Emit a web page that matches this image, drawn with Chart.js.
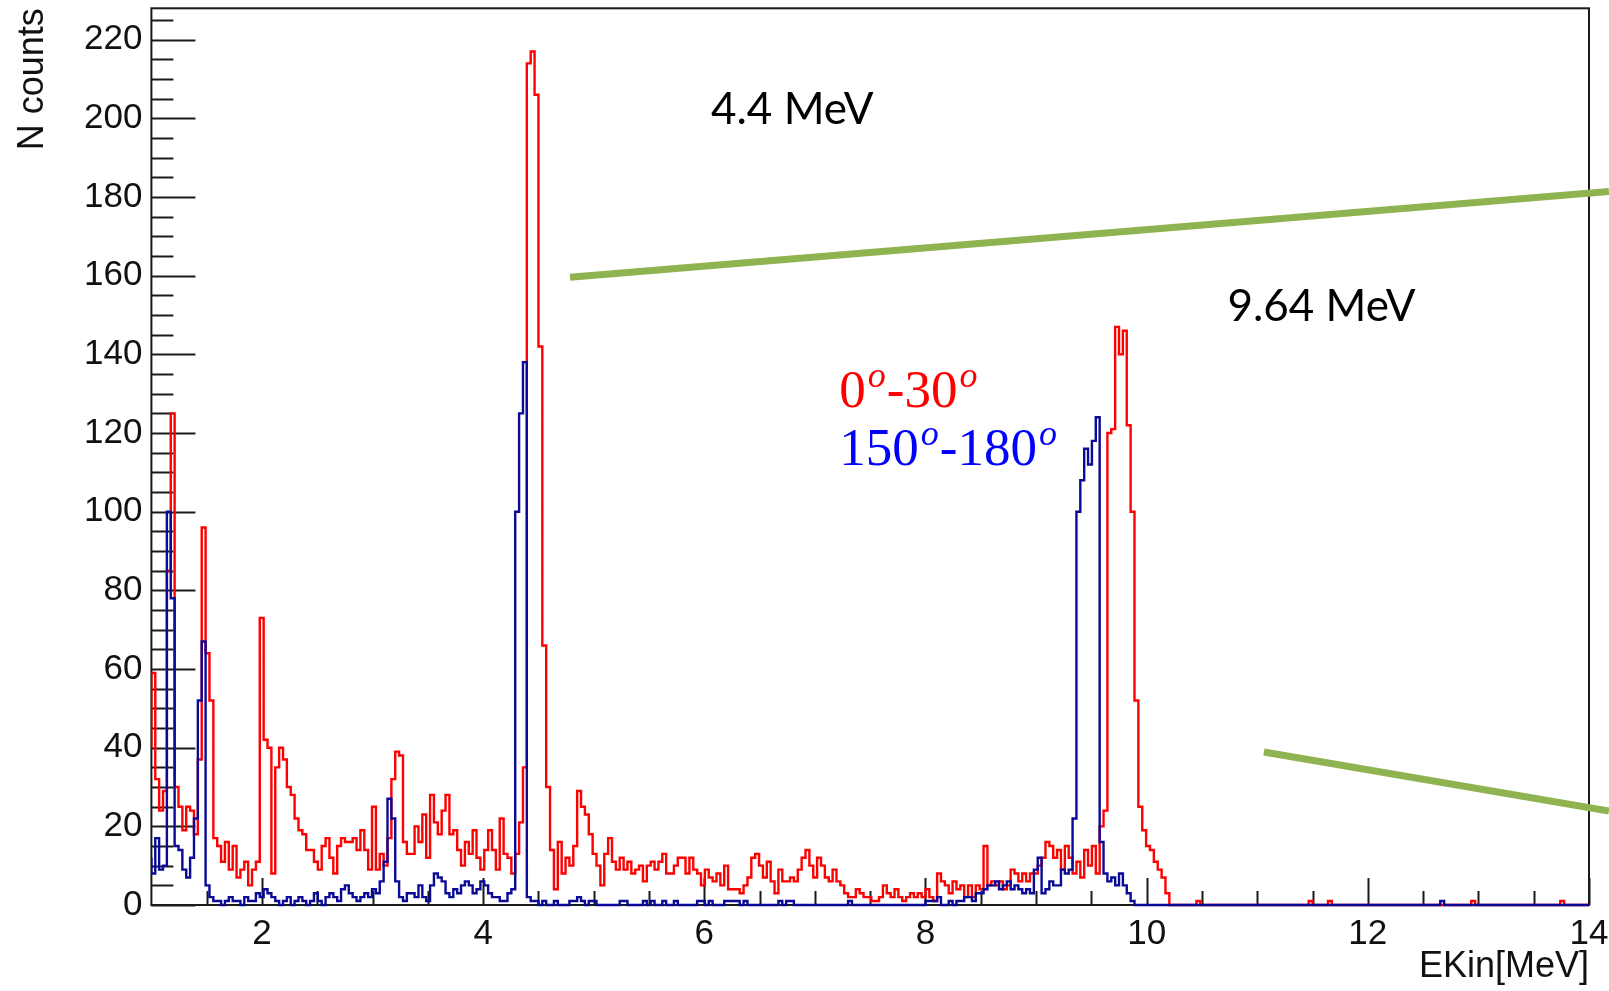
<!DOCTYPE html>
<html>
<head>
<meta charset="utf-8">
<title>EKin spectra</title>
<script src="https://cdn.jsdelivr.net/npm/chart.js@4.4.0/dist/chart.umd.min.js"></script>
<style>
  html, body { margin: 0; padding: 0; background: #fff; }
  #wrap { position: relative; width: 1609px; height: 991px; }
</style>
</head>
<body>
<div id="wrap"><canvas id="spectrum"></canvas></div>
<script>
// === Binning of the spectra (MeV) ===
const E_START = 1.0;
const BIN_W = 0.035;
const E_END = 14.0;

// === Counts per bin, 0°-30° (red), starting at E_START ===
const redCounts = [
  40, 59, 32, 24, 29, 85, 125, 30, 25, 19,
  25, 24, 18, 37, 96, 64, 52, 17, 15, 11,
  16, 9, 15, 7, 9, 11, 5, 9, 11, 73,
  42, 40, 8, 35, 40, 37, 30, 28, 22, 19,
  18, 14, 14, 11, 9, 15, 17, 12, 8, 15,
  17, 16, 16, 17, 14, 19, 14, 9, 25, 9,
  13, 10, 17, 32, 39, 38, 16, 13, 13, 20,
  16, 23, 12, 28, 21, 18, 24, 28, 18, 19,
  14, 10, 16, 13, 19, 12, 9, 14, 19, 14,
  9, 22, 13, 12, 8, 13, 21, 35, 214, 217,
  206, 142, 66, 30, 14, 4, 16, 8, 12, 10,
  15, 29, 25, 23, 18, 13, 10, 5, 13, 17,
  11, 9, 12, 9, 11, 8, 9, 10, 6, 10,
  11, 9, 11, 13, 8, 8, 10, 12, 12, 8,
  12, 9, 8, 5, 9, 7, 6, 8, 5, 10,
  4, 4, 4, 3, 5, 7, 12, 13, 10, 7,
  11, 6, 3, 9, 6, 6, 7, 6, 9, 12,
  14, 10, 7, 12, 10, 7, 6, 9, 6, 5,
  3, 2, 2, 4, 3, 2, 2, 1, 1, 2,
  5, 3, 2, 4, 2, 1, 2, 3, 2, 3,
  2, 4, 2, 1, 8, 6, 5, 3, 6, 4,
  5, 2, 5, 2, 5, 4, 15, 5, 6, 5,
  6, 4, 5, 9, 8, 6, 8, 6, 8, 8,
  10, 12, 16, 15, 12, 14, 9, 15, 12, 8,
  11, 7, 14, 10, 15, 8, 20, 24, 120, 121,
  147, 140, 146, 122, 100, 52, 25, 19, 15, 14,
  11, 9, 7, 3
];

// === Counts per bin, 150°-180° (blue) ===
const blueCounts = [
  12, 8, 17, 9, 10, 100, 78, 15, 14, 9,
  7, 12, 22, 52, 67, 5, 2, 1, 1, 0,
  1, 2, 1, 1, 0, 2, 1, 1, 3, 2,
  4, 3, 2, 1, 0, 1, 2, 0, 1, 2,
  1, 0, 1, 3, 1, 0, 2, 3, 2, 1,
  4, 5, 3, 2, 1, 2, 3, 2, 4, 3,
  6, 11, 27, 22, 6, 2, 1, 3, 3, 2,
  5, 2, 1, 5, 8, 7, 6, 3, 2, 4,
  3, 5, 6, 5, 3, 4, 6, 5, 3, 2,
  2, 1, 1, 3, 4, 100, 125, 138, 2, 1,
  1, 0, 1, 0, 0, 1, 0, 0, 0, 1,
  1, 2, 1, 0, 1, 1, 0, 0, 0, 0,
  0, 0, 1, 1, 0, 0, 0, 0, 1, 0,
  1, 0, 0, 1, 0, 0, 1, 0, 0, 0,
  0, 0, 1, 1, 0, 1, 0, 0, 0, 1,
  1, 1, 1, 0, 1, 0, 0, 0, 0, 0,
  0, 0, 0, 1, 0, 1, 1, 0, 0, 0,
  0, 0, 0, 0, 0, 0, 0, 0, 0, 0,
  0, 1, 0, 0, 0, 0, 0, 0, 0, 0,
  0, 0, 0, 0, 0, 0, 0, 0, 0, 0,
  0, 1, 1, 1, 2, 0, 0, 1, 0, 1,
  1, 2, 2, 1, 3, 3, 4, 5, 5, 6,
  4, 5, 6, 4, 5, 4, 3, 4, 3, 9,
  12, 3, 4, 6, 5, 5, 9, 8, 9, 22,
  100, 108, 116, 112, 118, 124, 16, 8, 6, 7,
  5, 8, 5, 3, 1, 0
];

// single stray counts in the high-energy tail (MeV)
const redStrayE = [10.5, 11.52, 11.69, 12.98, 13.78];
const blueStrayE = [12.72];

// === Axes ===
const xTickValues = [2, 4, 6, 8, 10, 12, 14];
const yTickValues = [0, 20, 40, 60, 80, 100, 120, 140, 160, 180, 200, 220];
const Y_MAX = 228;

// === Callout lines (MeV, counts) ===
const calloutUpper = [{ x: 4.785, y: 159.6 }, { x: 14.18, y: 181.4 }];
const calloutLower = [{ x: 11.06, y: 38.9 }, { x: 14.18, y: 23.9 }];

// === Text annotations (left edge / baseline in MeV, counts) ===
const peakNotes = [
  { text: '4.4 MeV', e: 6.06, n: 198.5 },
  { text: '9.64 MeV', e: 10.73, n: 148.4 }
];
const angleNotes = [
  { parts: ['0', 'o', '-30', 'o'], color: '#ff0000', e: 7.22, n: 126.6 },
  { parts: ['150', 'o', '-180', 'o'], color: '#0000ff', e: 7.22, n: 111.8 }
];

const RED = '#ff0000';
const BLUE = '#0a0a96';
const GREEN = '#8fb350';
const SANS = "'Liberation Sans', Arial, sans-serif";

function buildHist(counts, strays) {
  const nBins = Math.ceil((E_END - E_START) / BIN_W - 1e-9);
  const full = [];
  for (let i = 0; i < nBins; i++) full.push(i < counts.length ? counts[i] : 0);
  strays.forEach(e => { full[Math.floor((e - E_START) / BIN_W)] += 1; });
  const pts = full.map((c, i) => ({ x: E_START + i * BIN_W, y: c }));
  pts.push({ x: E_START + nBins * BIN_W, y: full[nBins - 1] });
  return pts;
}

// ROOT-like frame with inward tick marks
const framePlugin = {
  id: 'rootFrame',
  beforeDatasetsDraw(chart) {
    const { ctx, chartArea: a, scales: { x, y } } = chart;
    ctx.save();
    ctx.strokeStyle = '#1a1a1a';
    ctx.lineWidth = 2;
    ctx.strokeRect(a.left, a.top, a.right - a.left, a.bottom - a.top);
    ctx.beginPath();
    for (let k = 0; k * 5 <= Y_MAX; k++) {
      const py = Math.round(y.getPixelForValue(k * 5)) + 0.5;
      const len = k % 4 === 0 ? 44 : 22;
      ctx.moveTo(a.left, py);
      ctx.lineTo(a.left + len, py);
    }
    for (let k = 3; k <= 28; k++) {
      const px = Math.round(x.getPixelForValue(k / 2)) + 0.5;
      const len = k % 4 === 0 ? 27 : 14;
      ctx.moveTo(px, a.bottom);
      ctx.lineTo(px, a.bottom - len);
    }
    ctx.stroke();
    ctx.restore();
  },
  afterDraw(chart) {
    const { ctx, scales: { x, y } } = chart;
    ctx.save();
    ctx.textBaseline = 'alphabetic';
    ctx.fillStyle = '#000';
    ctx.font = "44px Lato, 'Open Sans', sans-serif";
    peakNotes.forEach(n => ctx.fillText(n.text, x.getPixelForValue(n.e), y.getPixelForValue(n.n)));

    const bigFont = "53px 'Liberation Serif', serif";
    const supFont = "italic 36px 'Liberation Serif', serif";
    angleNotes.forEach(n => {
      let px = x.getPixelForValue(n.e);
      const py = y.getPixelForValue(n.n);
      ctx.fillStyle = n.color;
      n.parts.forEach((p, i) => {
        const sup = i % 2 === 1;
        ctx.font = sup ? supFont : bigFont;
        ctx.fillText(p, px + (sup ? 2 : 0), sup ? py - 20 : py);
        px += ctx.measureText(p).width + (sup ? 3 : 0);
      });
    });
    ctx.restore();
  }
};

const lineBase = { pointRadius: 0, borderWidth: 2.4, fill: false, tension: 0 };

new Chart(document.getElementById('spectrum'), {
  type: 'line',
  data: {
    datasets: [
      { ...lineBase, label: 'callout upper', data: calloutUpper, borderColor: GREEN, borderWidth: 7, clip: false, order: 0 },
      { ...lineBase, label: 'callout lower', data: calloutLower, borderColor: GREEN, borderWidth: 7, clip: false, order: 0 },
      { ...lineBase, label: '150°-180°', data: buildHist(blueCounts, blueStrayE), borderColor: BLUE, stepped: 'after',
        clip: { left: 0, top: 0, right: 0, bottom: 3 }, order: 1 },
      { ...lineBase, label: '0°-30°', data: buildHist(redCounts, redStrayE), borderColor: RED, stepped: 'after',
        clip: { left: 0, top: 0, right: 0, bottom: 3 }, order: 2 }
    ]
  },
  options: {
    animation: false,
    responsive: true,
    maintainAspectRatio: false,
    layout: { padding: { top: 8.3, right: 20, left: 0, bottom: 0 } },
    plugins: { legend: { display: false }, tooltip: { enabled: false } },
    scales: {
      x: {
        type: 'linear', min: E_START, max: E_END,
        grid: { display: false, drawTicks: false },
        border: { display: false },
        ticks: { font: { family: SANS, size: 35 }, color: '#111', padding: 8, maxRotation: 0, autoSkip: false },
        afterBuildTicks: s => { s.ticks = xTickValues.map(v => ({ value: v })); },
        afterFit: s => { s.height = 86; s.paddingLeft = 0; s.paddingRight = 0; },
        title: { display: true, text: 'EKin[MeV]', align: 'end', color: '#111',
                 font: { family: SANS, size: 36 }, padding: { top: 0, bottom: 2 } }
      },
      y: {
        type: 'linear', min: 0, max: Y_MAX,
        grid: { display: false, drawTicks: false },
        border: { display: false },
        ticks: { font: { family: SANS, size: 35 }, color: '#111', padding: 9, autoSkip: false },
        afterBuildTicks: s => { s.ticks = yTickValues.map(v => ({ value: v })); },
        afterFit: s => { s.width = 151.4; s.paddingTop = 0; s.paddingBottom = 0; },
        title: { display: true, text: 'N counts', align: 'end', color: '#111',
                 font: { family: SANS, size: 36 }, padding: { top: 11, bottom: 0 } }
      }
    }
  },
  plugins: [framePlugin]
});
</script>
</body>
</html>
